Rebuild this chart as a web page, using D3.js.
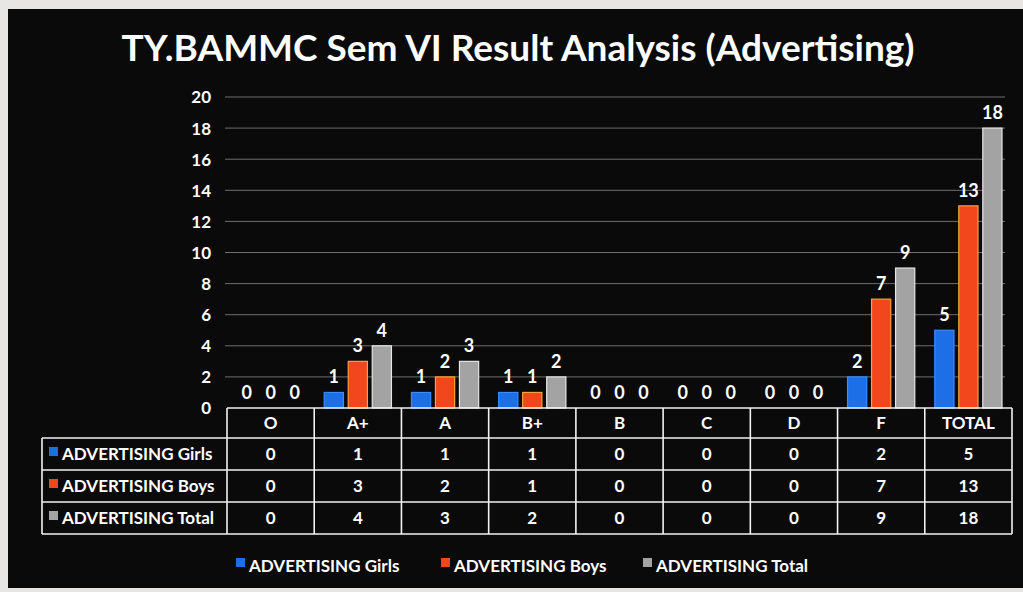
<!DOCTYPE html>
<html>
<head>
<meta charset="utf-8">
<script src="https://cdn.jsdelivr.net/npm/d3@7"></script>
<style>
  html, body { margin: 0; padding: 0; background: #e8e5e5; }
  svg { display: block; }
  text { font-family: Lato, "Open Sans", "DejaVu Sans", sans-serif; font-weight: 700; fill: #ffffff; }
</style>
</head>
<body>
<svg id="chart" width="1023" height="592"></svg>
<script>
// Grades and result counts per group
const categories = ["O", "A+", "A", "B+", "B", "C", "D", "F", "TOTAL"];
const seriesNames = ["ADVERTISING Girls", "ADVERTISING Boys", "ADVERTISING Total"];
const girls = [0, 1, 1, 1, 0, 0, 0, 2, 5];
const boys  = [0, 3, 2, 1, 0, 0, 0, 7, 13];
const total = [0, 4, 3, 2, 0, 0, 0, 9, 18];
const yTicks = [0, 2, 4, 6, 8, 10, 12, 14, 16, 18, 20];
const colors = ["#1c6fe6", "#f2461c", "#a3a3a3"];
const strokes = ["#3a8cff", "#f7a23a", "#e6e6e6"];

const series = [girls, boys, total];

const svg = d3.select("#chart");

// dark chart panel
svg.append("rect").attr("x", 8).attr("y", 9).attr("width", 1015).attr("height", 579).attr("fill", "#0a0a0a");

// title
svg.append("text")
  .attr("x", 518).attr("y", 61)
  .attr("text-anchor", "middle")
  .style("font-size", "37px")
  .text("TY.BAMMC Sem VI Result Analysis (Advertising)");

const plotLeft = 227, plotRight = 1012;
const x = d3.scaleBand().domain(categories).range([plotLeft, plotRight]).padding(0);
const xs = d3.scaleBand().domain(d3.range(seriesNames.length)).range([10, x.bandwidth() - 10]).paddingInner(0.2);
const y = d3.scaleLinear().domain([0, 20]).range([408, 97]);

// gridlines
svg.append("g").selectAll("line").data(yTicks.filter(d => d > 0)).join("line")
  .attr("x1", 225).attr("x2", 1005)
  .attr("y1", d => y(d)).attr("y2", d => y(d))
  .attr("stroke", "#6e6e6e").attr("stroke-width", 1);

// y axis labels
const yAxis = svg.append("g").attr("transform", "translate(211,0)")
  .call(d3.axisLeft(y).tickValues(yTicks).tickSize(0).tickPadding(0));
yAxis.select(".domain").remove();
yAxis.selectAll("text").style("font-size", "17px").style("font-family", "Lato, 'Open Sans', sans-serif")
  .attr("fill", "#ffffff").attr("dy", "0.35em");

// bars
const groups = svg.append("g").selectAll("g").data(categories).join("g")
  .attr("transform", d => `translate(${x(d)},0)`);

groups.selectAll("rect").data((c, i) => series.map((s, k) => ({ k, v: s[i] }))).join("rect")
  .attr("x", d => xs(d.k))
  .attr("width", xs.bandwidth())
  .attr("y", d => y(d.v))
  .attr("height", d => y(0) - y(d.v))
  .attr("fill", d => colors[d.k])
  .attr("stroke", d => d.v > 0 ? strokes[d.k] : "none")
  .attr("stroke-width", 1.2);

// value labels
groups.selectAll("text").data((c, i) => series.map((s, k) => ({ k, v: s[i] }))).join("text")
  .attr("x", d => xs(d.k) + xs.bandwidth() / 2)
  .attr("y", d => y(d.v) - 9)
  .attr("text-anchor", "middle")
  .style("font-size", "18px")
  .text(d => d.v);

// data table
const headerTop = 408, headerH = 30, rowH = 32, labelLeft = 42;
const tableBottom = headerTop + headerH + rowH * 3;
const table = svg.append("g");
const line = (x1, y1, x2, y2) => table.append("line")
  .attr("x1", x1).attr("y1", y1).attr("x2", x2).attr("y2", y2)
  .attr("stroke", "#f2f2f2").attr("stroke-width", 1.6);

line(plotLeft, headerTop, plotRight, headerTop);
line(labelLeft, headerTop + headerH, plotRight, headerTop + headerH);
for (let r = 1; r <= 3; r++) line(labelLeft, headerTop + headerH + rowH * r, plotRight, headerTop + headerH + rowH * r);
line(labelLeft, headerTop + headerH, labelLeft, tableBottom);
categories.forEach(c => line(x(c), headerTop, x(c), tableBottom));
line(plotRight, headerTop, plotRight, tableBottom);

// header row
table.selectAll("text.hdr").data(categories).join("text").attr("class", "hdr")
  .attr("x", d => x(d) + x.bandwidth() / 2)
  .attr("y", headerTop + headerH / 2)
  .attr("dy", "0.35em")
  .attr("text-anchor", "middle")
  .style("font-size", "17px")
  .text(d => d);

// series rows
series.forEach((s, k) => {
  const cy = headerTop + headerH + rowH * k + rowH / 2;
  table.append("rect").attr("x", 49).attr("y", cy - 7).attr("width", 9).attr("height", 9).attr("fill", colors[k]);
  table.append("text").attr("x", 62).attr("y", cy).attr("dy", "0.35em")
    .style("font-size", "17px").text(seriesNames[k]);
  table.selectAll(null).data(s).join("text")
    .attr("x", (d, i) => x(categories[i]) + x.bandwidth() / 2)
    .attr("y", cy).attr("dy", "0.35em")
    .attr("text-anchor", "middle")
    .style("font-size", "17px")
    .text(d => d);
});

// legend
const legendX = [236, 441, 643];
const legend = svg.append("g").selectAll("g").data(seriesNames).join("g")
  .attr("transform", (d, i) => `translate(${legendX[i]},566)`);
legend.append("rect").attr("x", 0).attr("y", -8).attr("width", 9).attr("height", 9).attr("fill", (d, i) => colors[i]);
legend.append("text").attr("x", 13).attr("y", 0).attr("dy", "0.35em").style("font-size", "17px").text(d => d);
</script>
</body>
</html>
